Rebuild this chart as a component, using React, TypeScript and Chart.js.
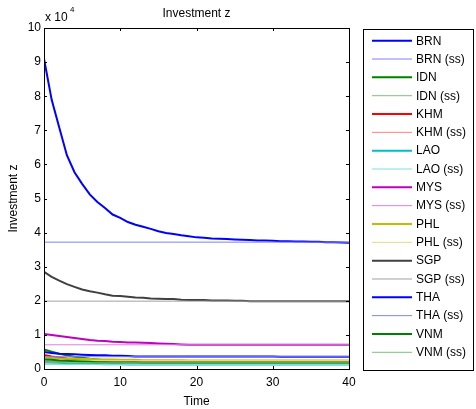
import React, { useEffect, useRef } from "react";
import { Chart, registerables } from "chart.js";

Chart.register(...registerables);

const time = [0, 1, 2, 3, 4, 5, 6, 7, 8, 9, 10, 11, 12, 13, 14, 15, 16, 17, 18, 19, 20, 21, 22, 23, 24, 25, 26, 27, 28, 29, 30, 31, 32, 33, 34, 35, 36, 37, 38, 39, 40];

const countries = ["BRN", "IDN", "KHM", "LAO", "MYS", "PHL", "SGP", "THA", "VNM"];

const brn = [91000, 79000, 70800, 62700, 57700, 54300, 51200, 49000, 47200, 45300, 44300, 43100, 42300, 41700, 41100, 40400, 39900, 39600, 39200, 38900, 38600, 38500, 38300, 38200, 38100, 38000, 37900, 37800, 37700, 37700, 37600, 37500, 37500, 37400, 37400, 37300, 37300, 37200, 37200, 37100, 37000];
const idn = [5700, 5100, 4500, 4000, 3600, 3300, 3000, 2800, 2600, 2500, 2400, 2300, 2300, 2200, 2200, 2200, 2100, 2100, 2100, 2100, 2100, 2100, 2100, 2100, 2100, 2100, 2100, 2100, 2100, 2100, 2100, 2100, 2100, 2100, 2100, 2100, 2100, 2100, 2100, 2100, 2100];
const khm = [4100, 3700, 3400, 3100, 2900, 2700, 2600, 2500, 2400, 2300, 2300, 2200, 2200, 2200, 2200, 2200, 2200, 2200, 2200, 2200, 2200, 2200, 2200, 2200, 2200, 2200, 2200, 2200, 2200, 2200, 2200, 2200, 2200, 2200, 2200, 2200, 2200, 2200, 2200, 2200, 2200];
const lao = [2000, 1900, 1800, 1700, 1600, 1600, 1500, 1500, 1400, 1400, 1400, 1300, 1300, 1300, 1300, 1300, 1300, 1300, 1300, 1300, 1300, 1300, 1300, 1300, 1300, 1300, 1300, 1300, 1300, 1300, 1300, 1300, 1300, 1300, 1300, 1300, 1300, 1300, 1300, 1300, 1300];
const mys = [10300, 10000, 9700, 9400, 9100, 8800, 8500, 8300, 8200, 8000, 7900, 7800, 7800, 7700, 7600, 7500, 7400, 7300, 7200, 7100, 7100, 7100, 7100, 7100, 7100, 7100, 7100, 7100, 7100, 7100, 7100, 7100, 7100, 7100, 7100, 7100, 7100, 7100, 7100, 7100, 7100];
const phl = [3300, 3200, 3100, 3000, 3000, 2900, 2900, 2800, 2800, 2800, 2700, 2700, 2700, 2600, 2600, 2600, 2600, 2600, 2600, 2500, 2500, 2500, 2500, 2500, 2500, 2500, 2500, 2500, 2500, 2500, 2500, 2500, 2500, 2500, 2500, 2500, 2500, 2500, 2500, 2500, 2500];
const sgp = [28500, 27000, 25900, 24900, 24100, 23300, 22800, 22400, 21900, 21500, 21400, 21200, 21000, 20900, 20700, 20600, 20500, 20500, 20300, 20200, 20200, 20200, 20100, 20100, 20100, 20000, 20000, 19900, 19900, 19900, 19900, 19900, 19900, 19900, 19900, 19900, 19900, 19900, 19900, 19900, 19900];
const tha = [5000, 4700, 4500, 4400, 4300, 4200, 4100, 4000, 4000, 3900, 3900, 3800, 3700, 3700, 3700, 3700, 3700, 3700, 3700, 3700, 3700, 3700, 3700, 3700, 3700, 3700, 3700, 3700, 3700, 3700, 3700, 3600, 3600, 3600, 3600, 3600, 3600, 3600, 3600, 3600, 3600];
const vnm = [2800, 2700, 2500, 2400, 2300, 2200, 2100, 2000, 2000, 1900, 1900, 1900, 1900, 1800, 1800, 1800, 1800, 1800, 1800, 1800, 1800, 1800, 1800, 1800, 1800, 1800, 1800, 1800, 1800, 1800, 1800, 1800, 1800, 1800, 1800, 1800, 1800, 1800, 1800, 1800, 1800];

const seriesValues = [brn, idn, khm, lao, mys, phl, sgp, tha, vnm];
const steadyStates = [37200, 2100, 2200, 1300, 7100, 2500, 19900, 3600, 1800];

const mainColors = ["#0000ff", "#008000", "#ff0000", "#00bfbf", "#bf00bf", "#bfbf00", "#404040", "#0000ff", "#008000"];
const ssColors = ["#7f7fff", "#7fbf7f", "#ff7f7f", "#7fdfdf", "#df7fdf", "#dfdf7f", "#a0a0a0", "#7f7fff", "#7fbf7f"];

const xTickValues = [0, 10, 20, 30, 40];
const yTickValues = [0, 10000, 20000, 30000, 40000, 50000, 60000, 70000, 80000, 90000, 100000];

const FONT = "'Liberation Sans', Arial, Helvetica, sans-serif";

const decorPlugin = {
  id: "decor",
  afterDraw(chart: any) {
    const ctx = chart.ctx;
    const area = chart.chartArea;
    const xs = chart.scales.x;
    const ys = chart.scales.y;
    ctx.save();
    // box
    ctx.strokeStyle = "#000";
    ctx.lineWidth = 1;
    ctx.strokeRect(Math.round(area.left) + 0.5, Math.round(area.top) + 0.5, Math.round(area.right - area.left), Math.round(area.bottom - area.top));
    // inward ticks
    const tl = 3;
    ctx.beginPath();
    xTickValues.forEach((v) => {
      const px = Math.round(xs.getPixelForValue(v)) + 0.5;
      ctx.moveTo(px, area.bottom);
      ctx.lineTo(px, area.bottom - tl);
      ctx.moveTo(px, area.top);
      ctx.lineTo(px, area.top + tl);
    });
    yTickValues.forEach((v) => {
      const py = Math.round(ys.getPixelForValue(v)) + 0.5;
      ctx.moveTo(area.left, py);
      ctx.lineTo(area.left + tl, py);
      ctx.moveTo(area.right, py);
      ctx.lineTo(area.right - tl, py);
    });
    ctx.stroke();
    // title
    ctx.fillStyle = "#000";
    ctx.font = `12px ${FONT}`;
    ctx.textAlign = "center";
    ctx.textBaseline = "middle";
    ctx.fillText("Investment z", (area.left + area.right) / 2, 14);
    // exponent
    ctx.textAlign = "left";
    ctx.fillText("x 10", area.left + 1, 18);
    ctx.font = `8px ${FONT}`;
    ctx.fillText("4", area.left + 26, 10);
    // legend
    const ds = chart.data.datasets;
    const lx = 363.5;
    const ly = 29.5;
    const lw = 110;
    const lh = 341;
    ctx.lineWidth = 1;
    ctx.strokeStyle = "#000";
    ctx.strokeRect(lx, ly, lw, lh);
    ctx.font = `12px ${FONT}`;
    ctx.textAlign = "left";
    ctx.textBaseline = "middle";
    ds.forEach((d: any, i: number) => {
      const y = 40.7 + i * 18.33;
      ctx.beginPath();
      ctx.strokeStyle = d.borderColor;
      ctx.lineWidth = d.borderWidth;
      ctx.moveTo(372, y);
      ctx.lineTo(412, y);
      ctx.stroke();
      ctx.fillStyle = "#000";
      ctx.fillText(d.label, 416, y + 0.5);
    });
    ctx.restore();
  },
};

export default function App() {
  const canvasRef = useRef<HTMLCanvasElement | null>(null);

  useEffect(() => {
    const canvas = canvasRef.current;
    if (!canvas) return;
    const datasets: any[] = [];
    countries.forEach((c, i) => {
      datasets.push({
        label: c,
        data: time.map((t, k) => ({ x: t, y: seriesValues[i][k] })),
        borderColor: mainColors[i],
        backgroundColor: mainColors[i],
        borderWidth: 2,
        pointRadius: 0,
        tension: 0,
        fill: false,
      });
      datasets.push({
        label: c + " (ss)",
        data: [
          { x: time[0], y: steadyStates[i] },
          { x: time[time.length - 1], y: steadyStates[i] },
        ],
        borderColor: ssColors[i],
        backgroundColor: ssColors[i],
        borderWidth: 1,
        pointRadius: 0,
        tension: 0,
        fill: false,
      });
    });
    datasets.forEach((d, i) => (d.order = datasets.length - i));

    const chart = new Chart(canvas, {
      type: "line",
      data: { datasets },
      options: {
        animation: false,
        responsive: false,
        devicePixelRatio: 1,
        layout: { padding: { top: 28, right: 127, left: 0, bottom: 0 } },
        plugins: {
          legend: { display: false },
          title: { display: false },
          tooltip: { enabled: false },
        },
        scales: {
          x: {
            type: "linear",
            min: 0,
            max: 40,
            grid: { display: false, drawTicks: false },
            border: { display: false },
            ticks: {
              stepSize: 10,
              color: "#000",
              font: { family: FONT, size: 12 },
              padding: 6,
              maxRotation: 0,
            },
            title: {
              display: true,
              text: "Time",
              color: "#000",
              font: { family: FONT, size: 12 },
              padding: { top: 1, bottom: 0 },
            },
            afterFit: (s: any) => {
              s.height = 40;
            },
          },
          y: {
            type: "linear",
            min: 0,
            max: 100000,
            grid: { display: false, drawTicks: false },
            border: { display: false },
            ticks: {
              stepSize: 10000,
              color: "#000",
              font: { family: FONT, size: 12 },
              padding: 3,
              callback: (v: any) => String(Number(v) / 10000),
            },
            title: {
              display: true,
              text: "Investment z",
              color: "#000",
              font: { family: FONT, size: 12 },
              padding: { top: 6, bottom: 0 },
            },
            afterFit: (s: any) => {
              s.width = 44;
            },
          },
        },
      },
      plugins: [decorPlugin],
    });
    return () => chart.destroy();
  }, []);

  return (
    <div style={{ position: "absolute", left: 0, top: 0, width: 476, height: 409, background: "#fff" }}>
      <canvas ref={canvasRef} width={476} height={409} />
    </div>
  );
}
